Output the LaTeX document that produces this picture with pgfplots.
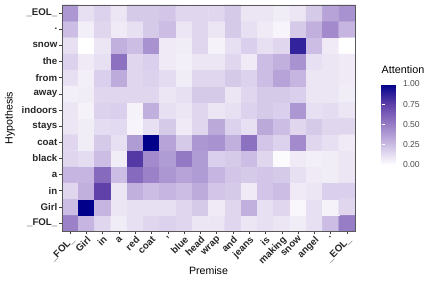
\documentclass[border=0pt]{standalone}
\usepackage{pgfplots}
\pgfplotsset{compat=1.18}
\usepackage{fontspec}
\setmainfont{Liberation Sans}
\usetikzlibrary{calc}
\pgfplotsset{
  colormap={att}{rgb255(0)=(255,255,255) rgb255(1)=(204,189,228) rgb255(2)=(151,125,198) rgb255(3)=(95,65,169) rgb255(4)=(0,0,139)}
}
\begin{document}
\begin{tikzpicture}
\path[use as bounding box] (0,0) rectangle (427bp,285bp);
\begin{axis}[
  at={(62bp,54bp)}, anchor=south west,
  scale only axis, width=293bp, height=226bp,
  xmin=-0.5, xmax=17.5, ymin=-0.5, ymax=13.5,
  enlargelimits=false, axis on top,
  colormap name=att, point meta min=0, point meta max=1,
  xtick={0,...,17}, ytick={0,...,13},
  xticklabels={\_FOL\_, Girl, in, a, red, coat, {,}, blue, head, wrap, and, jeans, is, making, snow, angel, ., \_EOL\_},
  yticklabels={\_FOL\_, Girl, in, a, black, coat, stays, indoors, away, from, the, snow, ., \_EOL\_},
  tick align=outside, major tick length=3bp,
  tick style={black!75, line width=0.5bp},
  xtick pos=bottom, ytick pos=left,
  axis line style={black!65, line width=0.5bp},
  ticklabel style={font=\fontsize{9.7bp}{11bp}\selectfont\bfseries, text=black!85},
  xticklabel style={rotate=45, anchor=north east, inner sep=1bp},
  yticklabel style={inner sep=1.5bp},
  xlabel={Premise}, ylabel={Hypothesis},
  label style={font=\fontsize{10.6bp}{12bp}\selectfont},
  xlabel style={at={(axis description cs:0.5,0)}, anchor=center, yshift=-40bp},
  ylabel style={at={(axis description cs:-0.1775,0.5)}, anchor=center},
  colorbar,
  colorbar style={
    at={($(parent axis.south west)+(311bp,147bp)$)}, anchor=north west, xshift=0pt,
    scale only axis, width=17bp, height=81bp,
    axis line style={draw=none},
    ytick={0,0.25,0.5,0.75,1},
    yticklabel pos=right, ytick pos=both,
    tick align=inside, major tick length=3bp,
    tick style={white, line width=0.6bp},
    yticklabel style={font=\fontsize{8.6bp}{10bp}\selectfont, text=black!70, xshift=1bp,
      /pgf/number format/.cd, fixed, fixed zerofill, precision=2, assume math mode=true},
    title={Attention},
    title style={at={(0,1)}, anchor=south west, inner sep=0pt, yshift=4bp, xshift=0bp,
      font=\fontsize{10.8bp}{12bp}\selectfont},
  },
]
\addplot[matrix plot*, mesh/cols=18, point meta=explicit] table[meta=c, row sep=\\] {
x y c\\
0 0 0.48\\ 1 0 0.28\\ 2 0 0.15\\ 3 0 0.07\\ 4 0 0.12\\ 5 0 0.15\\ 6 0 0.17\\ 7 0 0.15\\ 8 0 0.10\\ 9 0 0.10\\ 10 0 0.15\\ 11 0 0.10\\ 12 0 0.12\\ 13 0 0.10\\ 14 0 0.07\\ 15 0 0.12\\ 16 0 0.25\\ 17 0 0.50\\
0 1 0.25\\ 1 1 1.00\\ 2 1 0.28\\ 3 1 0.10\\ 4 1 0.12\\ 5 1 0.12\\ 6 1 0.12\\ 7 1 0.15\\ 8 1 0.20\\ 9 1 0.08\\ 10 1 0.15\\ 11 1 0.30\\ 12 1 0.12\\ 13 1 0.15\\ 14 1 0.03\\ 15 1 0.12\\ 16 1 0.05\\ 17 1 0.15\\
0 2 0.15\\ 1 2 0.30\\ 2 2 0.75\\ 3 2 0.10\\ 4 2 0.30\\ 5 2 0.25\\ 6 2 0.28\\ 7 2 0.25\\ 8 2 0.32\\ 9 2 0.22\\ 10 2 0.20\\ 11 2 0.08\\ 12 2 0.22\\ 13 2 0.25\\ 14 2 0.08\\ 15 2 0.10\\ 16 2 0.18\\ 17 2 0.18\\
0 3 0.28\\ 1 3 0.28\\ 2 3 0.58\\ 3 3 0.25\\ 4 3 0.58\\ 5 3 0.48\\ 6 3 0.40\\ 7 3 0.35\\ 8 3 0.38\\ 9 3 0.28\\ 10 3 0.22\\ 11 3 0.20\\ 12 3 0.22\\ 13 3 0.20\\ 14 3 0.12\\ 15 3 0.08\\ 16 3 0.07\\ 17 3 0.10\\
0 4 0.15\\ 1 4 0.13\\ 2 4 0.25\\ 3 4 0.07\\ 4 4 0.78\\ 5 4 0.45\\ 6 4 0.38\\ 7 4 0.52\\ 8 4 0.38\\ 9 4 0.18\\ 10 4 0.20\\ 11 4 0.25\\ 12 4 0.15\\ 13 4 0.02\\ 14 4 0.08\\ 15 4 0.06\\ 16 4 0.07\\ 17 4 0.10\\
0 5 0.15\\ 1 5 0.07\\ 2 5 0.20\\ 3 5 0.12\\ 4 5 0.38\\ 5 5 1.00\\ 6 5 0.35\\ 7 5 0.20\\ 8 5 0.40\\ 9 5 0.42\\ 10 5 0.30\\ 11 5 0.55\\ 12 5 0.22\\ 13 5 0.17\\ 14 5 0.45\\ 15 5 0.15\\ 16 5 0.12\\ 17 5 0.08\\
0 6 0.10\\ 1 6 0.07\\ 2 6 0.13\\ 3 6 0.14\\ 4 6 0.04\\ 5 6 0.12\\ 6 6 0.20\\ 7 6 0.08\\ 8 6 0.15\\ 9 6 0.33\\ 10 6 0.17\\ 11 6 0.12\\ 12 6 0.33\\ 13 6 0.25\\ 14 6 0.15\\ 15 6 0.20\\ 16 6 0.15\\ 17 6 0.15\\
0 7 0.10\\ 1 7 0.05\\ 2 7 0.17\\ 3 7 0.18\\ 4 7 0.05\\ 5 7 0.30\\ 6 7 0.12\\ 7 7 0.10\\ 8 7 0.15\\ 9 7 0.10\\ 10 7 0.12\\ 11 7 0.17\\ 12 7 0.20\\ 13 7 0.18\\ 14 7 0.40\\ 15 7 0.12\\ 16 7 0.13\\ 17 7 0.10\\
0 8 0.06\\ 1 8 0.07\\ 2 8 0.15\\ 3 8 0.15\\ 4 8 0.15\\ 5 8 0.15\\ 6 8 0.10\\ 7 8 0.12\\ 8 8 0.20\\ 9 8 0.20\\ 10 8 0.10\\ 11 8 0.15\\ 12 8 0.20\\ 13 8 0.20\\ 14 8 0.18\\ 15 8 0.10\\ 16 8 0.10\\ 17 8 0.07\\
0 9 0.12\\ 1 9 0.06\\ 2 9 0.18\\ 3 9 0.32\\ 4 9 0.15\\ 5 9 0.17\\ 6 9 0.13\\ 7 9 0.07\\ 8 9 0.15\\ 9 9 0.15\\ 10 9 0.20\\ 11 9 0.17\\ 12 9 0.25\\ 13 9 0.35\\ 14 9 0.28\\ 15 9 0.10\\ 16 9 0.10\\ 17 9 0.08\\
0 10 0.17\\ 1 10 0.08\\ 2 10 0.12\\ 3 10 0.55\\ 4 10 0.15\\ 5 10 0.18\\ 6 10 0.08\\ 7 10 0.06\\ 8 10 0.10\\ 9 10 0.10\\ 10 10 0.15\\ 11 10 0.08\\ 12 10 0.25\\ 13 10 0.30\\ 14 10 0.42\\ 15 10 0.12\\ 16 10 0.10\\ 17 10 0.08\\
0 11 0.12\\ 1 11 0.00\\ 2 11 0.10\\ 3 11 0.30\\ 4 11 0.25\\ 5 11 0.42\\ 6 11 0.08\\ 7 11 0.07\\ 8 11 0.15\\ 9 11 0.05\\ 10 11 0.12\\ 11 11 0.18\\ 12 11 0.12\\ 13 11 0.15\\ 14 11 0.87\\ 15 11 0.25\\ 16 11 0.08\\ 17 11 0.00\\
0 12 0.25\\ 1 12 0.06\\ 2 12 0.15\\ 3 12 0.08\\ 4 12 0.12\\ 5 12 0.20\\ 6 12 0.25\\ 7 12 0.10\\ 8 12 0.15\\ 9 12 0.10\\ 10 12 0.20\\ 11 12 0.12\\ 12 12 0.08\\ 13 12 0.04\\ 14 12 0.20\\ 15 12 0.30\\ 16 12 0.45\\ 17 12 0.28\\
0 13 0.40\\ 1 13 0.12\\ 2 13 0.17\\ 3 13 0.10\\ 4 13 0.20\\ 5 13 0.20\\ 6 13 0.22\\ 7 13 0.15\\ 8 13 0.15\\ 9 13 0.15\\ 10 13 0.20\\ 11 13 0.10\\ 12 13 0.10\\ 13 13 0.07\\ 14 13 0.10\\ 15 13 0.20\\ 16 13 0.35\\ 17 13 0.42\\
};
\end{axis}
\end{tikzpicture}
\end{document}
